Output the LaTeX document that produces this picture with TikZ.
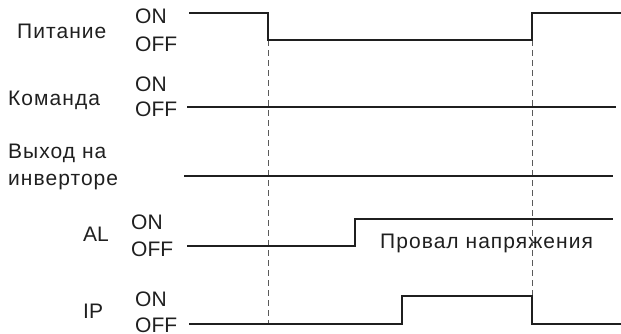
\documentclass[tikz,border=0pt]{standalone}
\usepackage{fontspec}
\setmainfont{Liberation Sans}
\newfontfamily\cyrf[LetterSpace=5]{Liberation Sans}
\begin{document}
\begin{tikzpicture}[x=1pt,y=-1pt,
  lbl/.style={anchor=west,inner sep=0pt,text height=15pt,text depth=0pt,text=black!88,font=\fontsize{21}{25}\selectfont},
  cyr/.style={lbl,font=\fontsize{21}{25}\selectfont\cyrf},
  wave/.style={line width=2pt,black!88,line join=miter},
  guide/.style={line width=1pt,black!65,dash pattern=on 6pt off 4pt}]
\useasboundingbox (0,0) rectangle (621,333);
% labels
\node[cyr] (lpit) at (17,31) {Питание};
\node[cyr] (lcmd) at (8,98) {Команда};
\node[cyr] (linv1) at (8,151) {Выход на};
\node[cyr] (linv2) at (8,178) {инверторе};
\node[lbl] (lal) at (83,234) {AL};
\node[lbl] (lip) at (83,311) {IP};
\node[lbl] (on1) at (135,15.5) {ON};
\node[lbl] (off1) at (135,43.5) {OFF};
\node[lbl] (on2) at (135,84) {ON};
\node[lbl] (off2) at (135,109) {OFF};
\node[lbl] (on4) at (131,222) {ON};
\node[lbl] (off4) at (131,249) {OFF};
\node[lbl] (on5) at (135,299) {ON};
\node[lbl] (off5) at (135,324.5) {OFF};
\node[cyr] (drop) at (380,241) {Провал напряжения};
% coordinates
\coordinate (p0) at (189,13); \coordinate (p1) at (268,13); \coordinate (p2) at (268,40);
\coordinate (p3) at (532,40); \coordinate (p4) at (532,13); \coordinate (p5) at (621,13);
\coordinate (c0) at (187,107); \coordinate (c1) at (616,107);
\coordinate (v0) at (184,176); \coordinate (v1) at (613,176);
\coordinate (a0) at (187,246); \coordinate (a1) at (355,246); \coordinate (a2) at (355,219); \coordinate (a3) at (613,219);
\coordinate (i0) at (189,324); \coordinate (i1) at (402,324); \coordinate (i2) at (402,296);
\coordinate (i3) at (532,296); \coordinate (i4) at (532,324); \coordinate (i5) at (621,324);
\coordinate (g1) at (268,324);
% guides
\draw[guide] (p2) -- (g1);
\draw[guide] (p3) -- (i3);
% waves
\draw[wave] (p0) -- (p1) -- (p2) -- (p3) -- (p4) -- (p5);
\draw[wave] (c0) -- (c1);
\draw[wave] (v0) -- (v1);
\draw[wave] (a0) -- (a1) -- (a2) -- (a3);
\draw[wave] (i0) -- (i1) -- (i2) -- (i3) -- (i4) -- (i5);
\end{tikzpicture}
\end{document}
